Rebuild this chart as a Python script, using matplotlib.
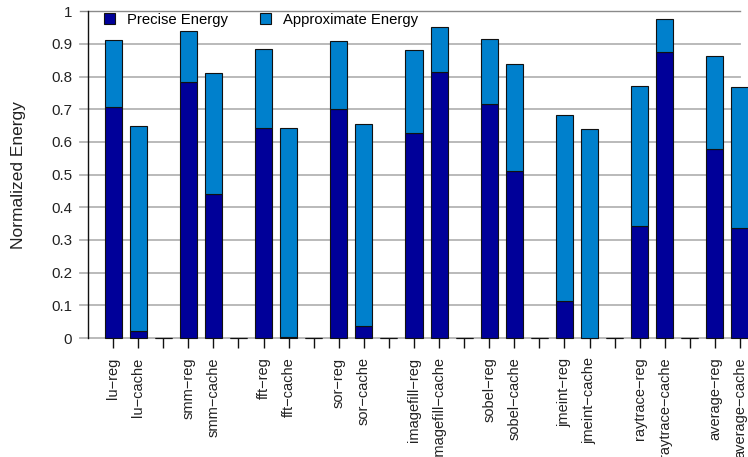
import matplotlib
matplotlib.use("Agg")
import matplotlib.pyplot as plt
import numpy as np

plt.rcParams['font.family'] = ['Liberation Sans', 'DejaVu Sans']

benchmarks = ["lu", "smm", "fft", "sor", "imagefill", "sobel", "jmeint", "raytrace", "average"]
reg_precise = [0.707, 0.785, 0.642, 0.701, 0.627, 0.717, 0.113, 0.344, 0.579]
reg_approx = [0.205, 0.156, 0.244, 0.208, 0.254, 0.199, 0.571, 0.428, 0.283]
cache_precise = [0.022, 0.441, 0.004, 0.038, 0.813, 0.510, 0.000, 0.874, 0.338]
cache_approx = [0.627, 0.369, 0.638, 0.617, 0.140, 0.328, 0.641, 0.103, 0.431]

# Lay out slots: reg, cache, then an empty spacer between benchmarks
labels, precise, approx = [], [], []
for i, b in enumerate(benchmarks):
    labels += [f"{b}\u2212reg", f"{b}\u2212cache"]
    precise += [reg_precise[i], cache_precise[i]]
    approx += [reg_approx[i], cache_approx[i]]
    if i < len(benchmarks) - 1:
        labels.append("")
        precise.append(0.0)
        approx.append(0.0)

x = np.arange(len(labels))
precise = np.array(precise)
approx = np.array(approx)

dark = "#000099"
light = "#0080CC"

fig = plt.figure(figsize=(7.48, 4.57), dpi=100)
ax = fig.add_axes([88 / 748, 1 - 338 / 457, 652 / 748, (338 - 11.3) / 457])

# horizontal reference lines
for yv in np.arange(0, 1.0, 0.1):
    ax.axhline(yv, color="#b4b4b4", lw=1.3, zorder=0, xmin=-0.012, clip_on=False)
ax.axhline(1.0, color="#8a8a8a", lw=1.0, zorder=0, xmin=-0.012, clip_on=False)

w = 0.68
ax.bar(x, precise, width=w, color=dark, edgecolor="#111111", linewidth=0.8,
       label="Precise Energy", zorder=2, clip_on=False)
ax.bar(x, approx, width=w, bottom=precise, color=light, edgecolor="#111111",
       linewidth=0.8, label="Approximate Energy", zorder=2, clip_on=False)

ax.set_xlim(-1, len(labels) - 1)
ax.set_ylim(0, 1)

ax.set_yticks(np.round(np.arange(0, 1.01, 0.1), 1))
ax.set_yticklabels(["0", "0.1", "0.2", "0.3", "0.4", "0.5", "0.6", "0.7", "0.8", "0.9", "1"])
ax.tick_params(axis="y", length=0, pad=11.5, labelsize=10.9, labelcolor="#222222")

ax.set_xticks(x)
ax.set_xticklabels(labels, rotation=90, fontsize=10.5, color="#222222")
ax.tick_params(axis="x", length=7, width=1.0, color="#111111", pad=7)

for s in ["top", "right", "bottom"]:
    ax.spines[s].set_visible(False)
ax.spines["left"].set_color("#111111")
ax.spines["left"].set_linewidth(1.0)

ax.set_ylabel("Normalized Energy", fontsize=12.5, color="#222222")
ax.yaxis.set_label_coords(-0.095, 0.5)

ax.legend(loc="upper left", bbox_to_anchor=(0.0245, 0.995), ncol=2, frameon=False,
          fontsize=10.7, borderpad=0, borderaxespad=0, handlelength=0.74,
          handleheight=0.74, handletextpad=0.8, columnspacing=2.15)

fig.savefig("out.png", dpi=100)
